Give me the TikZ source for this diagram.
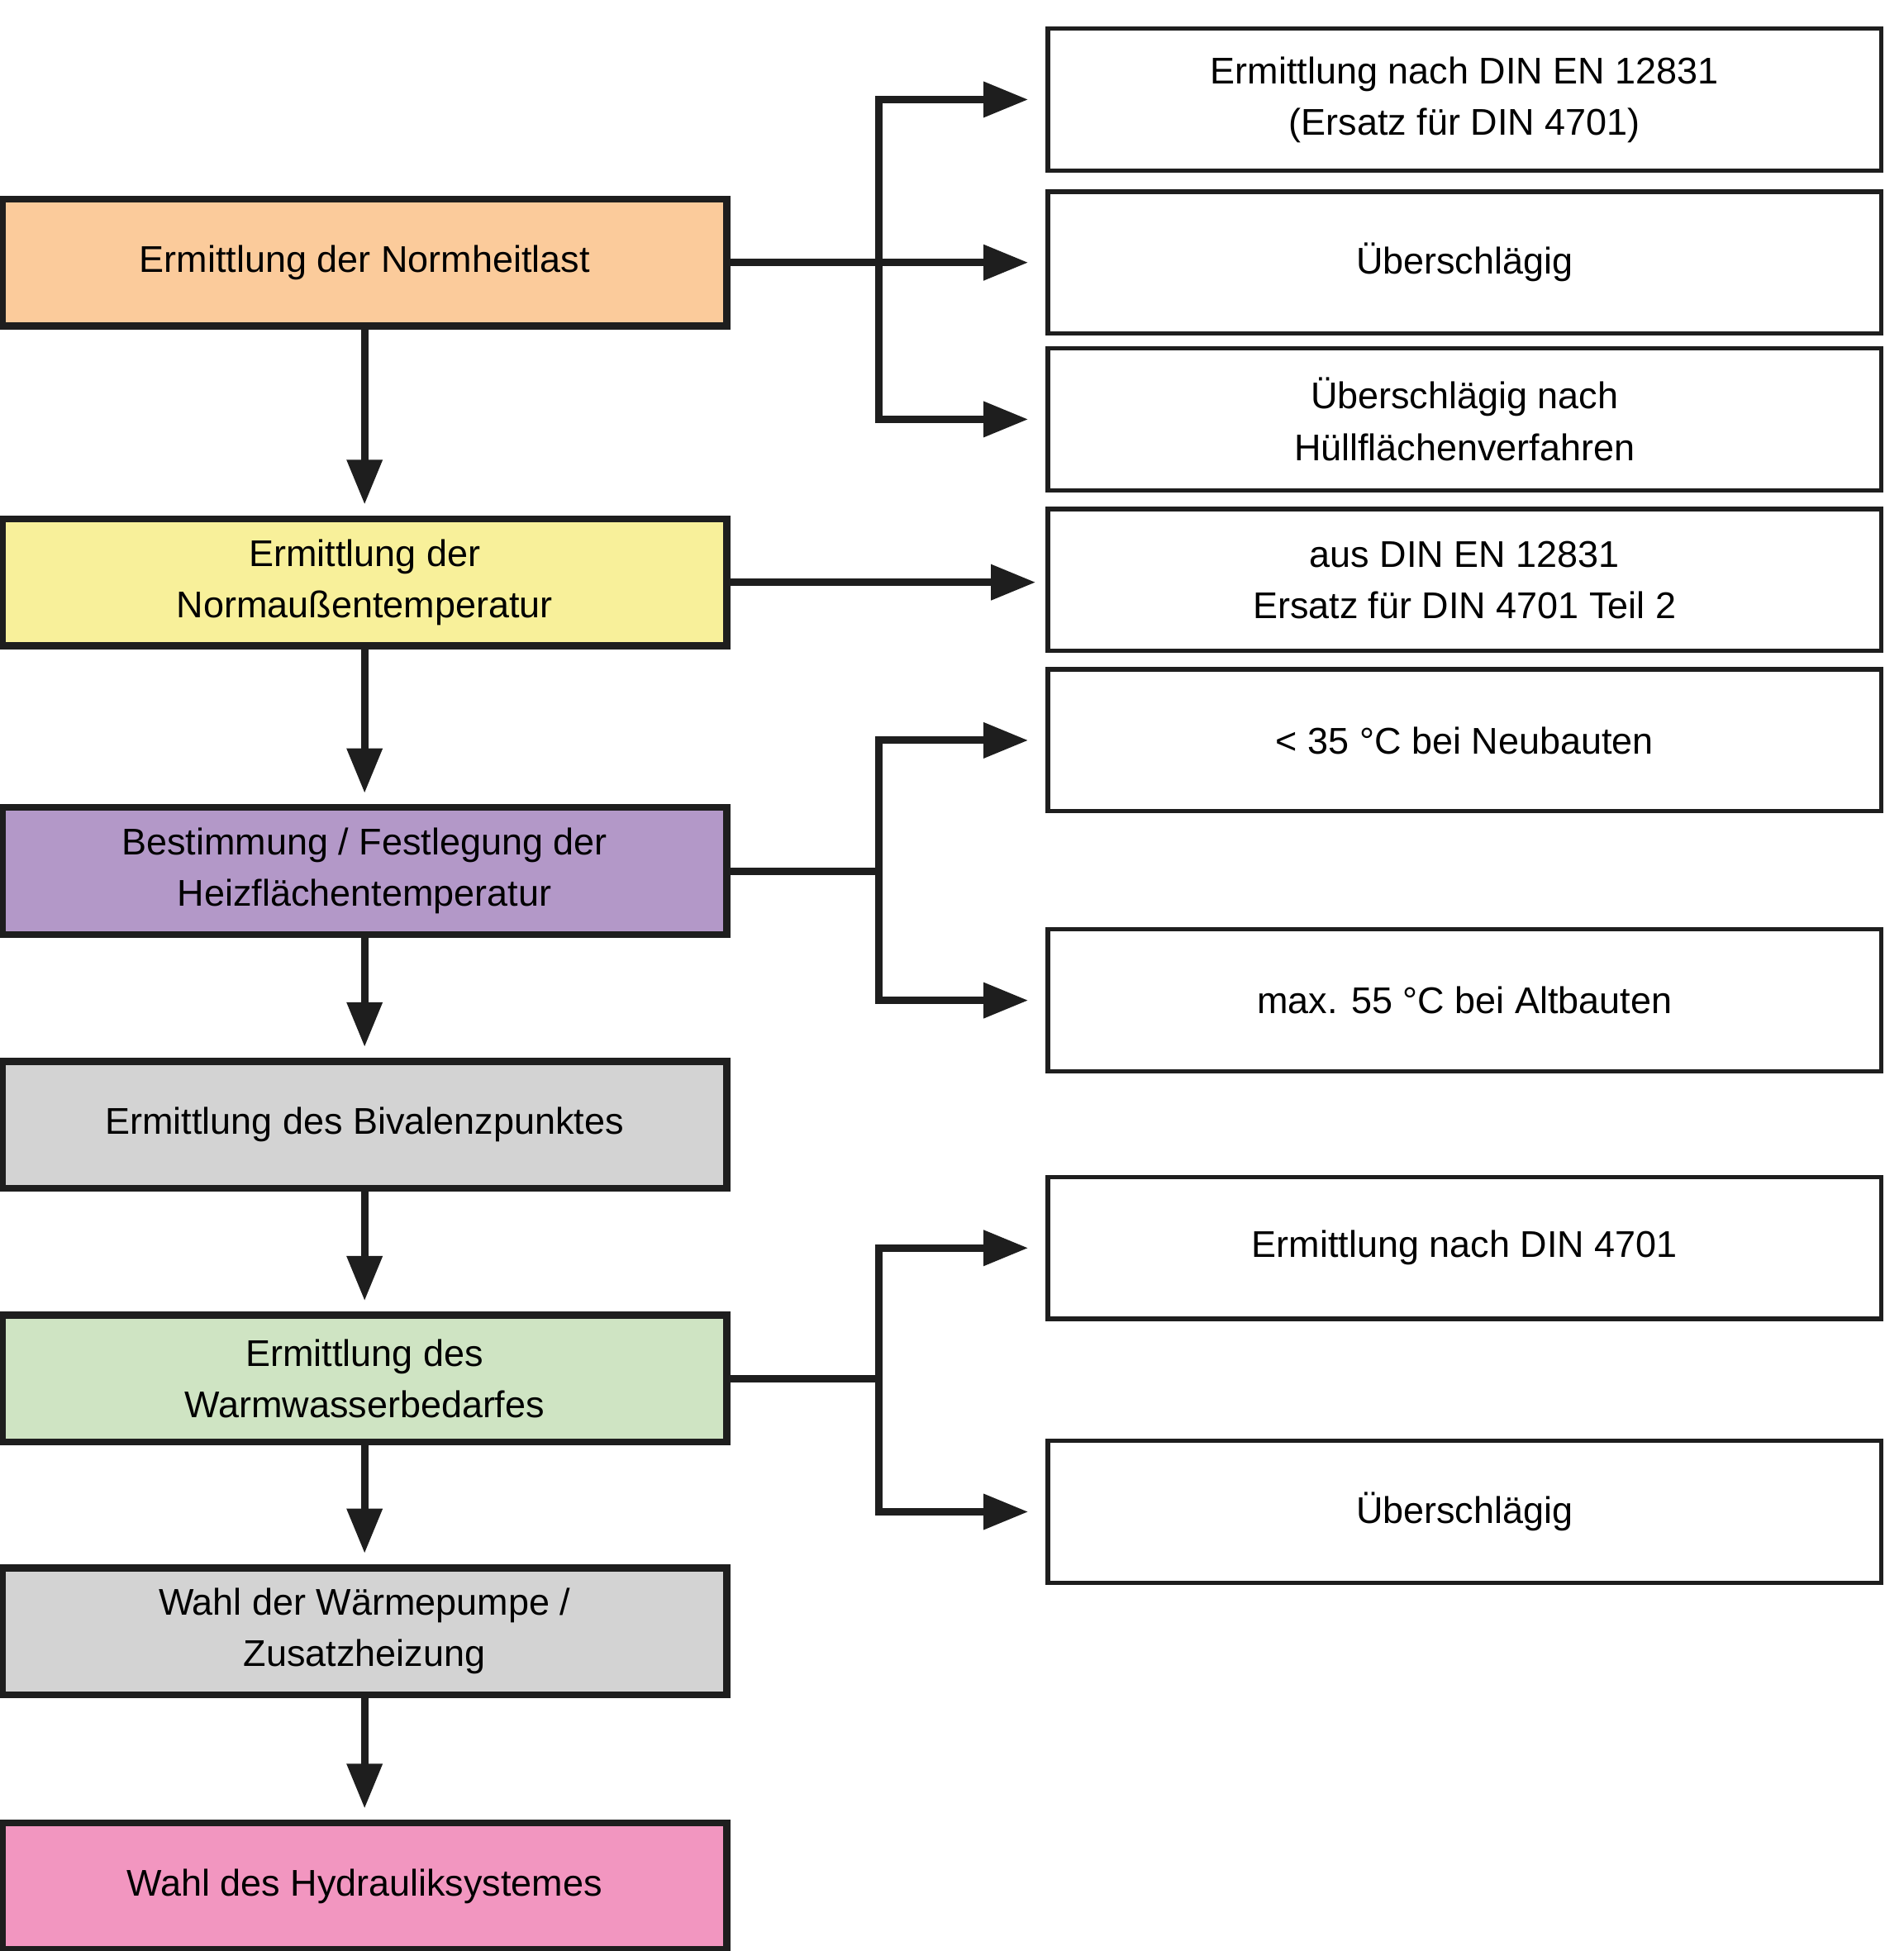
\documentclass[tikz,border=0pt]{standalone}
\usepackage{fontspec}
\setmainfont{Liberation Sans}
\usetikzlibrary{arrows.meta}
\definecolor{cOrange}{HTML}{FBCB9B}
\definecolor{cYellow}{HTML}{F8F09A}
\definecolor{cPurple}{HTML}{B398C8}
\definecolor{cGrey}{HTML}{D3D3D3}
\definecolor{cGreen}{HTML}{CFE4C3}
\definecolor{cPink}{HTML}{F296C0}
\definecolor{cLine}{HTML}{1E1E1E}
\tikzset{
  step/.style = {draw=cLine, line width=3.2pt, fill=#1, minimum width=11.64cm,
                 minimum height=2.04cm, align=center, inner sep=0pt,
                 font=\fontsize{17}{23.5}\selectfont},
  step/.default = cGrey,
  info/.style = {draw=cLine, line width=2pt, fill=white, minimum width=13.4cm,
                 minimum height=2.28cm, align=center, inner sep=0pt,
                 font=\fontsize{17}{23.5}\selectfont},
  arr/.style = {draw=cLine, line width=3.4pt,
                -{Triangle[length=0.72cm,width=0.55cm]}},
  link/.style = {draw=cLine, line width=3.4pt},
}
\begin{document}
\begin{tikzpicture}[x=0.02cm,y=-0.02cm]
\useasboundingbox (0,0) rectangle (1530,1568);
% left column
\node[step=cOrange] (s1) at (293,211) {Ermittlung der Normheitlast};
\node[step=cYellow] (s2) at (293,468) {Ermittlung der\\Normaußentemperatur};
\node[step=cPurple] (s3) at (293,700) {Bestimmung / Festlegung der\\Heizflächentemperatur};
\node[step] (s4) at (293,904) {Ermittlung des Bivalenzpunktes};
\node[step=cGreen] (s5) at (293,1108) {Ermittlung des\\Warmwasserbedarfes};
\node[step] (s6) at (293,1311) {Wahl der Wärmepumpe /\\Zusatzheizung};
\node[step=cPink] (s7) at (293,1516) {Wahl des Hydrauliksystemes};
% right column
\node[info] (r1) at (1177,80) {Ermittlung nach DIN EN 12831\\(Ersatz für DIN 4701)};
\node[info] (r2) at (1177,211) {Überschlägig};
\node[info] (r3) at (1177,337) {Überschlägig nach\\Hüllflächenverfahren};
\node[info] (r4) at (1177,466) {aus DIN EN 12831\\Ersatz für DIN 4701 Teil 2};
\node[info] (r5) at (1177,595) {< 35 °C bei Neubauten};
\node[info] (r6) at (1177,804) {max. 55 °C bei Altbauten};
\node[info] (r7) at (1177,1003) {Ermittlung nach DIN 4701};
\node[info] (r8) at (1177,1215) {Überschlägig};
% branch points
\coordinate (b1) at (706,211);
\coordinate (b3) at (706,700);
\coordinate (b5) at (706,1108);
% flow
\foreach \a/\b in {s1/s2,s2/s3,s3/s4,s4/s5,s5/s6,s6/s7}
  \draw[arr, shorten >=5pt] (\a.south) -- (\b.north);
\draw[arr, shorten >=0.28cm] (s1.east) -- (r2.west);
\draw[arr, shorten >=0.28cm] (b1) |- (r1.west);
\draw[arr, shorten >=0.28cm] (b1) |- (r3.west);
\draw[arr, shorten >=0.16cm] (s2.east) -- (s2.east -| r4.west);
\draw[link] (s3.east) -- (b3);
\draw[arr, shorten >=0.28cm] (b3) |- (r5.west);
\draw[arr, shorten >=0.28cm] (b3) |- (r6.west);
\draw[link] (s5.east) -- (b5);
\draw[arr, shorten >=0.28cm] (b5) |- (r7.west);
\draw[arr, shorten >=0.28cm] (b5) |- (r8.west);
\end{tikzpicture}
\end{document}
